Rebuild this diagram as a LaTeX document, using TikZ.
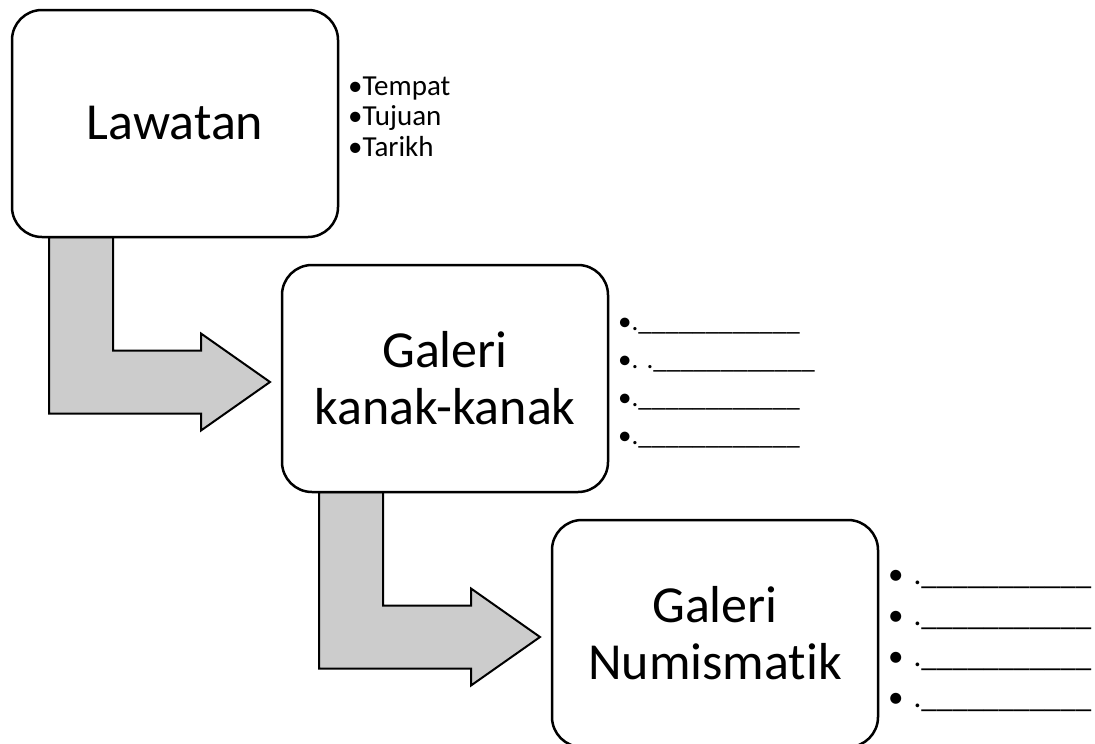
\documentclass[tikz,border=0pt]{standalone}
\usepackage{fontspec}
\setmainfont{Carlito}[Ligatures=NoCommon]
\usetikzlibrary{calc,backgrounds}

\tikzset{
  caja/.style={draw, line width=2.5pt, rounded corners=30pt, fill=white,
    minimum width=326pt, minimum height=227pt, inner sep=0pt, outer sep=0pt,
    align=center, font=\fontsize{52}{57}\selectfont},
  lista/.style={align=left, inner sep=0pt, anchor=base west},
  flecha/.style={draw, line width=2pt, fill=black!20, line join=miter},
}

% raya para rellenar
\newcommand{\raya}{\_\_\_\_\_\_\_\_\_\_\_\_}
\newcommand{\rayacorta}{\_\_\_\_\_\_\_\_\_\_\_}

% flecha en codo entre dos cajas
\newcommand{\flechacodo}[2]{%
  \draw[flecha] let \p1=(#1.south west), \p2=(#2.west) in
    (\x1+37pt,\y1) -- (\x1+101pt,\y1) -- (\x1+101pt,\y2+28pt)
    -- (\x2-81pt,\y2+28pt) -- (\x2-81pt,\y2+45pt) -- (\x2-12pt,\y2-3.5pt)
    -- (\x2-81pt,\y2-52pt) -- (\x2-81pt,\y2-35pt) -- (\x1+37pt,\y2-35pt) -- cycle;}

\begin{document}
\begin{tikzpicture}[x=1pt,y=-1pt]

    \useasboundingbox (0,0) rectangle (1095,744);

    % Cajas principales
    \node[caja] (lawatan) at (175,123.5) {Lawatan};
    \node[caja] (galeri1) at (445,378.5) {Galeri\\kanak-kanak};
    \node[caja] (galeri2) at (715,633.5) {Galeri\\Numismatik};

    % Flechas
    \begin{pgfonlayer}{background}
    \flechacodo{lawatan}{galeri1}
    \flechacodo{galeri1}{galeri2}
    \end{pgfonlayer}

    % Listas (ancladas en la ultima linea)
    \node[lista, font=\fontsize{29}{30.5}\selectfont] (info1)
      at ($(lawatan.north east)+(10,146)$) {•Tempat\\•Tujuan\\•Tarikh};
    \node[lista, font=\fontsize{27}{38}\selectfont] (info2)
      at ($(galeri1.north east)+(10,179)$) {•.\raya\\•. .\raya\\•.\raya\\•.\raya};
    \node[lista, font=\fontsize{31}{41}\selectfont] (info3)
      at ($(galeri2.north east)+(10,187)$)
      {•\hspace{10pt}.\rayacorta\\•\hspace{10pt}.\rayacorta\\•\hspace{10pt}.\rayacorta\\•\hspace{10pt}.\rayacorta};

\end{tikzpicture}
\end{document}
